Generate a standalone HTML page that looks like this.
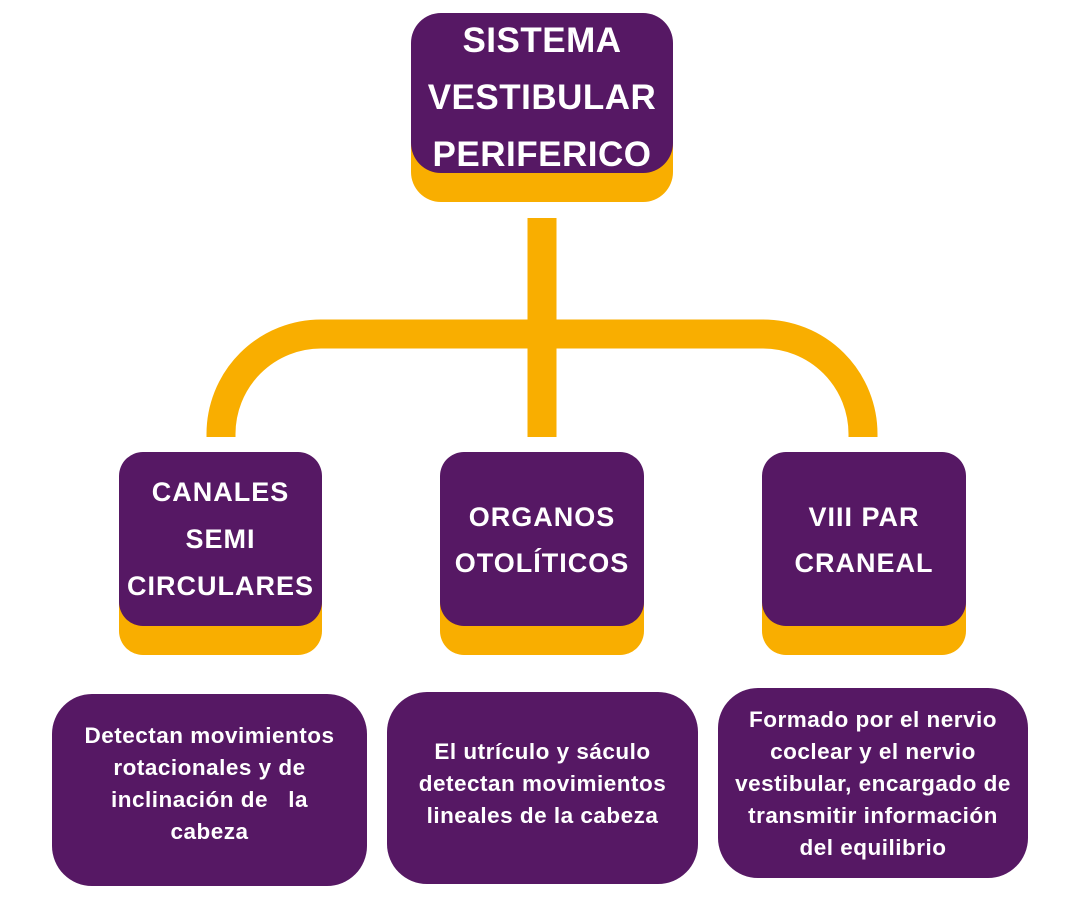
<!DOCTYPE html>
<html><head><meta charset="utf-8"><style>
body{margin:0;width:1080px;height:900px;background:#fff;position:relative;overflow:hidden;font-family:"Liberation Sans",sans-serif}
.o{position:absolute;background:#F9AE00}
.p{position:absolute;background:#561864;color:#fff;text-align:center}
.t{position:absolute;left:0;right:0;text-align:center;color:#fff;font-weight:bold;white-space:nowrap}
.b{font-size:22.5px;line-height:32px;letter-spacing:0.5px}
</style></head><body>
<div class="o" style="left:411px;top:40px;width:262px;height:162px;border-radius:30px"></div>
<div class="p" style="left:411px;top:13px;width:262px;height:160px;border-radius:30px"></div>
<div class="t" style="left:411px;width:262px;top:12px;font-size:35px;line-height:57px;letter-spacing:0.5px">SISTEMA <br>VESTIBULAR<br>PERIFERICO</div>

<svg style="position:absolute;left:0;top:0" width="1080" height="900">
<g fill="none" stroke="#F9AE00" stroke-width="29">
<line x1="542" y1="218" x2="542" y2="437"/>
<path d="M221 437 V434 A100 100 0 0 1 321 334 H763 A100 100 0 0 1 863 434 V437"/>
</g></svg>

<div class="o" style="left:119px;top:480px;width:203px;height:175px;border-radius:24px"></div>
<div class="p" style="left:119px;top:452px;width:203px;height:174px;border-radius:24px"></div>
<div class="t" style="left:119px;width:203px;top:469px;font-size:27px;line-height:47px;letter-spacing:1px">CANALES<br>SEMI<br>CIRCULARES</div>

<div class="o" style="left:440px;top:480px;width:204px;height:175px;border-radius:24px"></div>
<div class="p" style="left:440px;top:452px;width:204px;height:174px;border-radius:24px"></div>
<div class="t" style="left:440px;width:204px;top:494px;font-size:27px;line-height:46px;letter-spacing:1px">ORGANOS<br>OTOLÍTICOS</div>

<div class="o" style="left:762px;top:480px;width:204px;height:175px;border-radius:24px"></div>
<div class="p" style="left:762px;top:452px;width:204px;height:174px;border-radius:24px"></div>
<div class="t" style="left:762px;width:204px;top:494px;font-size:27px;line-height:46px;letter-spacing:1px">VIII PAR<br>CRANEAL</div>

<div class="p" style="left:52px;top:694px;width:315px;height:192px;border-radius:40px"></div>
<div class="t b" style="left:52px;width:315px;top:720px">Detectan movimientos<br>rotacionales y de<br>inclinación de &nbsp; la<br>cabeza</div>

<div class="p" style="left:387px;top:692px;width:311px;height:192px;border-radius:40px"></div>
<div class="t b" style="left:387px;width:311px;top:736px">El utrículo y sáculo<br>detectan movimientos<br>lineales de la cabeza</div>

<div class="p" style="left:718px;top:688px;width:310px;height:190px;border-radius:40px"></div>
<div class="t b" style="left:718px;width:310px;top:704px">Formado por el nervio<br>coclear y el nervio<br>vestibular, encargado de<br>transmitir información<br>del equilibrio</div>
</body></html>
